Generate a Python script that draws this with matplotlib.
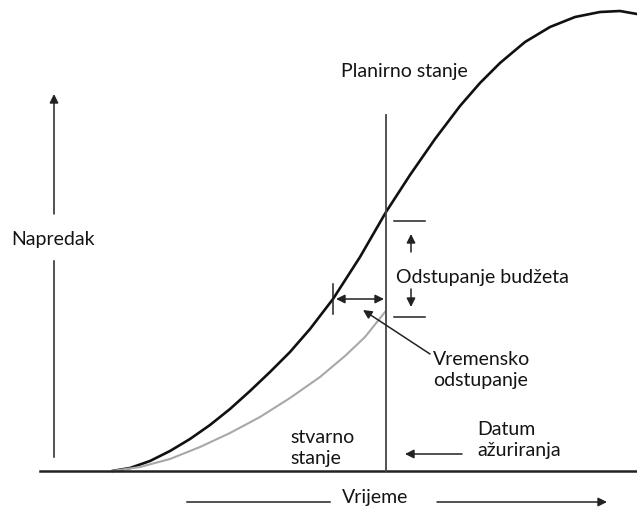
import matplotlib
matplotlib.use("Agg")
import matplotlib.pyplot as plt

# Planned (S-curve) progress over time
planned_time = [112, 130, 150, 170, 190, 210, 230, 250, 270, 290, 310, 333, 360,
                386, 410, 435, 460, 480, 500, 525, 550, 575, 600, 620, 637]
planned_progress = [0, 3, 10, 20, 32, 46, 62, 80, 99, 119, 142, 172, 214,
                    259, 296, 332, 365, 388, 408, 429, 444, 454, 459, 460, 457]

# Actual progress up to the update date
actual_time = [112, 140, 170, 200, 230, 260, 290, 320, 345, 365, 385]
actual_progress = [0, 4, 12, 24, 38, 54, 73, 94, 115, 134, 159]

update_date = 386

labels = {
    "y": "Napredak",
    "x": "Vrijeme",
    "planned": "Planirno stanje",
    "actual": "stvarno\nstanje",
    "date": "Datum\nažuriranja",
    "budget": "Odstupanje budžeta",
    "time": "Vremensko\nodstupanje",
}

plt.rcParams['font.family'] = ['Lato', 'DejaVu Sans']
TXT = "#141414"
FS = 14

fig = plt.figure(figsize=(6.37, 5.10), dpi=100)
ax = fig.add_axes([0, 0, 1, 1])
ax.set_xlim(0, 637)
ax.set_ylim(-38, 472)
ax.axis("off")

# curves
ax.plot(planned_time, planned_progress, color="#111111", lw=1.9, solid_capstyle="round")
ax.plot(actual_time, actual_progress, color="#a8a8a8", lw=1.5)

# baseline
ax.plot([40, 637], [0, 0], color="#222222", lw=1.8)

# update date vertical line
ax.plot([update_date, update_date], [0, 356], color="#444444", lw=1.3)

arrow_kw = dict(arrowstyle="-|>", color="#222222", lw=1.1, mutation_scale=13,
                shrinkA=0, shrinkB=0)

# y axis arrow, broken by the label
ax.plot([54, 54], [14, 210], color="#222222", lw=1.1)
ax.annotate("", xy=(54, 377), xytext=(54, 257), arrowprops=arrow_kw)
ax.text(53, 232, labels["y"], ha="center", va="center", fontsize=FS, color=TXT)

# x axis label with arrow
ax.plot([187, 330], [-31, -31], color="#222222", lw=1.1)
ax.annotate("", xy=(607, -31), xytext=(437, -31), arrowprops=arrow_kw)
ax.text(375, -26, labels["x"], ha="center", va="center", fontsize=FS, color=TXT)

# planned label
ax.text(404, 400, labels["planned"], ha="center", va="center", fontsize=FS, color=TXT)

# budget deviation marks
ax.plot([394, 425], [250, 250], color="#222222", lw=1.1)
ax.plot([394, 425], [154, 154], color="#222222", lw=1.1)
ax.annotate("", xy=(411, 237), xytext=(411, 219), arrowprops=arrow_kw)
ax.annotate("", xy=(411, 164), xytext=(411, 182), arrowprops=arrow_kw)
ax.text(396, 194, labels["budget"], ha="left", va="center", fontsize=FS, color=TXT)

# time deviation
ax.plot([333, 333], [157, 187], color="#222222", lw=1.1)
ax.annotate("", xy=(336, 172), xytext=(384, 172),
            arrowprops=dict(arrowstyle="<|-|>", color="#222222", lw=1.1,
                            mutation_scale=13, shrinkA=0, shrinkB=0))
ax.annotate("", xy=(363, 161), xytext=(430, 117), arrowprops=arrow_kw)
ax.text(433, 102, labels["time"], ha="left", va="center", fontsize=FS, color=TXT,
        linespacing=1.35)

# actual label
ax.text(290, 24, labels["actual"], ha="left", va="center", fontsize=FS, color=TXT,
        linespacing=1.35)

# update date label
ax.annotate("", xy=(405, 17), xytext=(462, 17), arrowprops=arrow_kw)
ax.text(477, 32, labels["date"], ha="left", va="center", fontsize=FS, color=TXT,
        linespacing=1.35)

fig.savefig("out.png", dpi=100, facecolor="white")
